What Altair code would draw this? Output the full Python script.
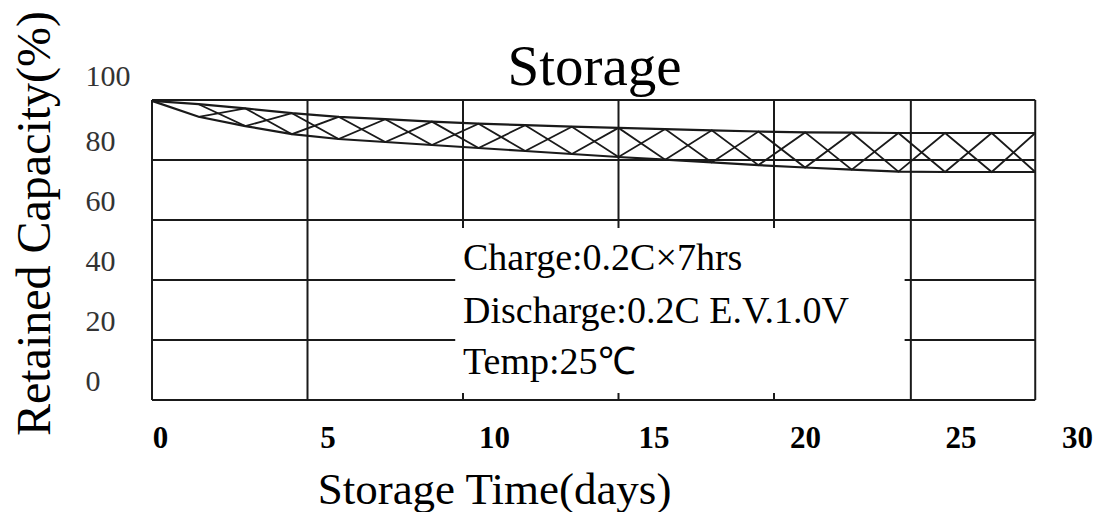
import altair as alt
import pandas as pd

# ---- data ----
days = [0, 1.5, 3, 4.5, 6, 7.5, 9, 10.5, 12, 13.5, 15, 16.5, 18, 19.5, 21, 22.5, 24, 25.5, 27, 28.4]
upper = [99.7, 98.6, 97.2, 95.6, 94.4, 93.6, 92.8, 92.1, 91.6, 91.1, 90.7, 90.3, 89.9, 89.5, 89.2, 89.1, 89.0, 89.0, 89.0, 89.0]
lower = [99.7, 94.4, 91.3, 88.6, 87.0, 86.0, 85.0, 84.0, 83.0, 82.0, 81.0, 80.1, 79.2, 78.3, 77.5, 76.8, 76.1, 76.0, 76.0, 76.0]

x_ticks = [0, 5, 10, 15, 20, 25, 30]
y_ticks = [0, 20, 40, 60, 80, 100]
vgrid_days = [0, 5, 10, 15, 20, 24.4, 28.4]
hgrid_pct = [0, 20, 40, 60, 80, 100]
frame_end_day = 28.4
box_days = [9.75, 24.2]
box_pct = [2.3, 57.3]
note_lines = ["Charge:0.2C\u00d77hrs", "Discharge:0.2C E.V.1.0V", "Temp:25\u2103"]
note_pct = [47.0, 29.3, 12.3]
note_day = 10.0

INK = "#1a1a1a"
SERIF = "Liberation Serif"

# ---- tables ----
band = pd.DataFrame(
    [{"day": d, "pct": u, "series": "upper"} for d, u in zip(days, upper)]
    + [{"day": d, "pct": l, "series": "lower"} for d, l in zip(days, lower)]
)

hatch_rows = []
for i in range(1, len(days)):
    a = upper[i] if i % 2 == 0 else lower[i]
    b = lower[i] if i % 2 == 0 else upper[i]
    hatch_rows.append({"day": days[i], "pct": a, "series": "A"})
    hatch_rows.append({"day": days[i], "pct": b, "series": "B"})
hatch = pd.DataFrame(hatch_rows)

vgrid = pd.DataFrame({"day": vgrid_days, "pct": [0] * len(vgrid_days), "pct2": [100] * len(vgrid_days)})
hgrid = pd.DataFrame({"day": [0] * len(hgrid_pct), "day2": [frame_end_day] * len(hgrid_pct), "pct": hgrid_pct})
box = pd.DataFrame({"day": [box_days[0]], "day2": [box_days[1]], "pct": [box_pct[0]], "pct2": [box_pct[1]]})
notes = pd.DataFrame({"day": [note_day] * len(note_lines), "pct": note_pct, "text": note_lines})

# ---- scales & axes ----
xs = alt.Scale(domain=[0, 30], nice=False, zero=False)
ys = alt.Scale(domain=[0, 100], nice=False, zero=False)

x_axis = alt.Axis(
    values=x_ticks, title="Storage Time(days)", grid=False, domain=False, ticks=False,
    labelFont=SERIF, labelFontSize=31, labelFontWeight="bold", labelColor="black", labelPadding=23,
    labelFlush=False, labelOverlap=False,
    labelOffset={"condition": [
        {"test": "datum.value == 0", "value": 8},
        {"test": "datum.value == 5", "value": 20},
        {"test": "datum.value == 15", "value": 35},
        {"test": "datum.value == 30", "value": -8},
    ], "value": 31},
    titleFont=SERIF, titleFontSize=45, titleFontWeight="normal", titleColor="black",
    titleX=342, titleY=103, titleAlign="center", titleBaseline="alphabetic",
)
y_axis = alt.Axis(
    values=y_ticks, title="Retained Capacity(%)", grid=False, domain=False, ticks=False,
    labelFont=SERIF, labelFontSize=30, labelColor="#333333", labelAlign="left",
    labelBaseline="middle", labelPadding=67, labelFlush=False, labelOverlap=False,
    labelOffset={"condition": {"test": "datum.value == 100", "value": -24}, "value": -19},
    titleFont=SERIF, titleFontSize=48, titleFontWeight="normal", titleColor="black",
    titleX=-117, titleY=123, titleAngle=270, titleAlign="center", titleBaseline="middle",
)

X = alt.X("day:Q", scale=xs, axis=x_axis)
Y = alt.Y("pct:Q", scale=ys, axis=y_axis)

vrules = alt.Chart(vgrid).mark_rule(color=INK, strokeWidth=2).encode(x=X, y=Y, y2="pct2:Q")
hrules = alt.Chart(hgrid).mark_rule(color=INK, strokeWidth=2).encode(x=X, x2="day2:Q", y=Y)
white = alt.Chart(box).mark_rect(fill="white", stroke=None).encode(x=X, x2="day2:Q", y=Y, y2="pct2:Q")
hatch_lines = alt.Chart(hatch).mark_line(color=INK, strokeWidth=1.8).encode(
    x=X, y=Y, detail="series:N"
)
band_lines = alt.Chart(band).mark_line(color=INK, strokeWidth=2.2).encode(
    x=X, y=Y, detail="series:N"
)
text = alt.Chart(notes).mark_text(
    align="left", baseline="middle", font=SERIF, fontSize=38, color="black"
).encode(x=X, y=Y, text="text:N")

chart = alt.layer(vrules, hrules, white, hatch_lines, band_lines, text).properties(
    width=933, height=300,
    title=alt.TitleParams(
        "Storage", font=SERIF, fontSize=57, fontWeight="normal", color="black",
        anchor="middle", dx=-24, dy=147, baseline="alphabetic", offset=15,
    ),
    autosize=alt.AutoSizeParams(type="none"),
    padding={"left": 144, "top": 92, "right": 11, "bottom": 112},
    background="white",
).configure_view(stroke=None)

chart.save("out.html", embed_options={"renderer": "svg", "actions": False})
